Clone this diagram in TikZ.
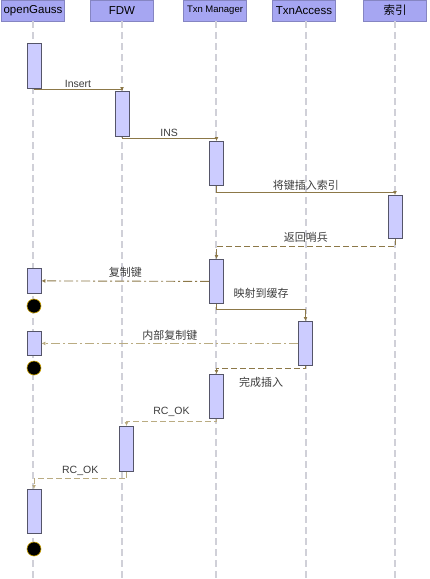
\documentclass[tikz,border=0pt]{standalone}
\usepackage{fontspec}
\setmainfont{Liberation Sans}
\newfontfamily\cjk{Noto Sans CJK SC}
\usetikzlibrary{arrows.meta}
\definecolor{headfill}{RGB}{166,166,242}
\definecolor{actfill}{RGB}{204,204,255}
\definecolor{actline}{RGB}{85,85,105}
\definecolor{lifeline}{RGB}{208,208,216}
\definecolor{msgdark}{RGB}{140,120,72}
\definecolor{msglight}{RGB}{186,172,130}
\definecolor{labeltext}{RGB}{60,60,60}
\definecolor{ringcol}{RGB}{200,160,0}

\begin{document}
\begin{tikzpicture}[x=1pt,y=-1pt,
	head/.style={fill=headfill, draw=headfill!80!black, line width=0.2pt, minimum width=63pt, minimum height=21pt, inner sep=0pt, anchor=north, font=\fontsize{11.5}{12}\selectfont},
	act/.style={fill=actfill, draw=actline, line width=0.8pt, minimum width=14pt, inner sep=0pt, anchor=north},
	life/.style={lifeline, line width=1.2pt, dash pattern=on 7pt off 4pt},
	stop/.style={circle, fill=black, draw=ringcol, line width=0.6pt, minimum size=14pt, inner sep=0pt},
	msg/.style={msgdark, line width=0.9pt, -{Latex[length=4pt,width=4pt]}},
	lbl/.style={text=labeltext, font=\fontsize{10.5}{12}\selectfont, inner sep=2pt}]
	\useasboundingbox (0,0) rectangle (429,579);

	% heads
	\node[head] (og) at (33,0) {openGauss};
	\node[head] (fdw) at (122,0) {FDW};
	\node[head, font=\fontsize{9.5}{10}\selectfont] (txn) at (215,0) {Txn Manager};
	\node[head] (acc) at (304,0) {TxnAccess};
	\node[head] (idx) at (395,0) {\cjk 索引};

	\draw[life] (og.south) -- (33,579);
	\draw[life] (fdw.south) -- (122,579);
	\draw[life] (216,21) -- (216,579);
	\draw[life] (306,21) -- (306,579);
	\draw[life] (idx.south) -- (395,579);

	% activations
	\node[act, minimum height=45pt] (og1) at (34,43) {};
	\node[act, minimum height=45pt] (fdw1) at (122,91) {};
	\node[act, minimum height=44pt] (txn1) at (216.5,141) {};
	\node[act, minimum height=43pt] (idx1) at (395,195) {};
	\node[act, minimum height=44pt] (txn2) at (216.5,259) {};
	\node[act, minimum height=25pt] (og2) at (34,268) {};
	\node[act, minimum height=44pt] (acc1) at (305.5,321) {};
	\node[act, minimum height=24pt] (og3) at (34,331) {};
	\node[act, minimum height=44pt] (txn3) at (216.5,374) {};
	\node[act, minimum height=45pt] (fdw2) at (126.5,426) {};
	\node[act, minimum height=44pt] (og4) at (34,489) {};

	\node[stop] (end1) at (34,306) {};
	\node[stop] (end2) at (34,368) {};
	\node[stop] (end3) at (34,549) {};

	% messages
	\draw[msg] (og1.south) -- ++(0,1) -| node[pos=0.25, lbl, above] {Insert} (fdw1.north);
	\draw[msg] (fdw1.south) -- ++(0,2) -| node[pos=0.25, lbl, above] {INS} (txn1.north);
	\draw[msg] (txn1.south) -- ++(0,7) -| node[pos=0.25, lbl, above] {\cjk\fontsize{11}{12}\selectfont 将键插入索引} (idx1.north);
	\draw[msg, dash pattern=on 6pt off 3pt] (idx1.south) -- ++(0,8) -| node[pos=0.25, lbl, above=2pt] {\cjk\fontsize{11}{12}\selectfont 返回哨兵} (txn2.north);
	\draw[msg, dash pattern=on 9pt off 3pt on 2pt off 3pt] (txn2.west) -- node[lbl, above=1pt] {\cjk\fontsize{11}{12}\selectfont 复制键} (og2.east);
	\draw[msg] (txn2.south) -- ++(0,6) -| node[pos=0.25, lbl, above=9pt] {\cjk\fontsize{11}{12}\selectfont 映射到缓存} (acc1.north);
	\draw[msg, msglight, dash pattern=on 9pt off 3pt on 2pt off 3pt] (acc1.west) -- node[lbl, above=1pt] {\cjk\fontsize{11}{12}\selectfont 内部复制键} (og3.east);
	\draw[msg, dash pattern=on 6pt off 3pt] (acc1.south) -- ++(0,3) -| node[pos=0.25, lbl, below=6pt] {\cjk\fontsize{11}{12}\selectfont 完成插入} (txn3.north);
	\draw[msg, msglight, dash pattern=on 6pt off 3pt] (txn3.south) -- ++(0,3) -| node[pos=0.25, lbl, above=3pt] {RC\_OK} (fdw2.north);
	\draw[msg, msglight, dash pattern=on 6pt off 3pt] (fdw2.south) -- ++(0,7) -| node[pos=0.25, lbl, above=1pt] {RC\_OK} (og4.north);
\end{tikzpicture}
\end{document}
